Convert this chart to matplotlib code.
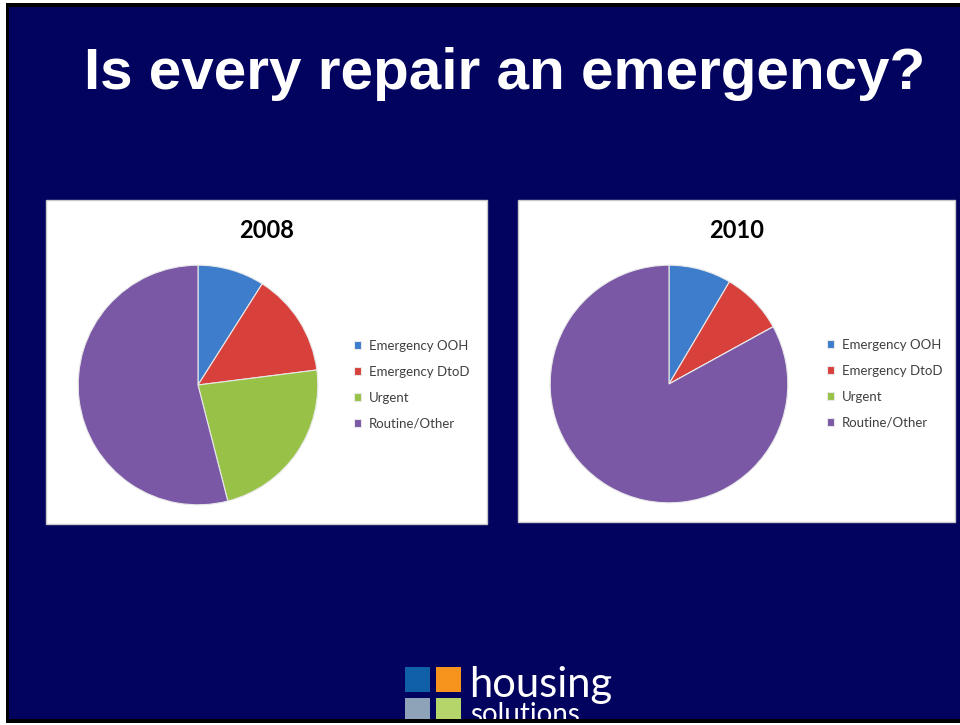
import matplotlib
matplotlib.use("Agg")
import matplotlib.pyplot as plt
from matplotlib.patches import Rectangle

# ---- data ----
categories = ["Emergency OOH", "Emergency DtoD", "Urgent", "Routine/Other"]
values_2008 = [9, 14, 23, 54]
values_2010 = [8.5, 8.5, 0, 83]
years = ["2008", "2010"]
title = "Is every repair an emergency?"
colors = ["#3D7DCB", "#D8403B", "#97C247", "#7A58A6"]

W, H = 960, 725
fig = plt.figure(figsize=(W / 100, H / 100), dpi=100)
fig.patch.set_facecolor("white")

bg = fig.add_axes([0, 0, 1, 1])
bg.set_xlim(0, W)
bg.set_ylim(H, 0)
bg.axis("off")

navy = "#02025F"
bg.add_patch(Rectangle((6, 3), W - 6, 720, fc="black", ec="none", zorder=0))
bg.add_patch(Rectangle((9, 7), W - 9, 712, fc=navy, ec="none", zorder=1))

# title
bg.text(505, 89, title, color="white", fontsize=42, fontweight="bold",
        family="Liberation Sans", ha="center", va="baseline", zorder=3)

# panels
panels = [(46, 200, 441, 324), (518, 200, 437, 322)]
for (x, y, w, h) in panels:
    bg.add_patch(Rectangle((x, y), w, h, fc="white", ec="#c8c8c8", lw=1, zorder=2))

title_pos = [(267, 230), (737, 230)]
for (tx, ty), yr in zip(title_pos, years):
    bg.text(tx, ty, yr, color="black", fontsize=17, fontweight="bold",
            family="Lato", ha="center", va="center", zorder=3)

# pies
pie_specs = [((198, 385, 121), values_2008, (354, 340)),
             ((669, 384, 120), values_2010, (827, 339))]
for (cx, cy, r), vals, (lx, ly) in pie_specs:
    ax = fig.add_axes([(cx - r) / W, 1 - (cy + r) / H, 2 * r / W, 2 * r / H])
    wedges, _ = ax.pie(vals, colors=colors, startangle=90, counterclock=False,
                       radius=1, wedgeprops=dict(edgecolor="#e8e8e8", linewidth=0.8))
    ax.set_xlim(-1.01, 1.01)
    ax.set_ylim(-1.01, 1.01)
    ax.set_aspect("equal")
    ax.axis("off")
    ax.legend(wedges, categories, loc="upper left", bbox_to_anchor=(lx / W, 1 - ly / H),
              bbox_transform=fig.transFigure, frameon=False, borderpad=0,
              borderaxespad=0, prop=dict(family="Lato", size=9.5),
              labelcolor="#404040", handlelength=0.55, handleheight=0.55,
              handletextpad=0.6, labelspacing=1.05)

# logo
logo_sq = [((405, 667), "#1060A8"), ((436, 667), "#F7941D"),
           ((405, 698), "#8FA3B8"), ((436, 698), "#B5D56A")]
for (x, y), c in logo_sq:
    bg.add_patch(Rectangle((x, y), 25, 25, fc=c, ec="none", zorder=3))
bg.text(469, 697, "housing", color="white", fontsize=30, fontweight="normal",
        family="Lato", ha="left", va="baseline", zorder=3)
bg.text(470, 723, "solutions", color="white", fontsize=20, fontweight="normal",
        family="Lato", ha="left", va="baseline", zorder=3)

# bottom border over the logo
bg.add_patch(Rectangle((6, 719), W - 6, 4, fc="black", ec="none", zorder=5))
bg.add_patch(Rectangle((0, 723), W, 2, fc="white", ec="none", zorder=5))

fig.savefig("out.png", dpi=100, facecolor=fig.get_facecolor())
